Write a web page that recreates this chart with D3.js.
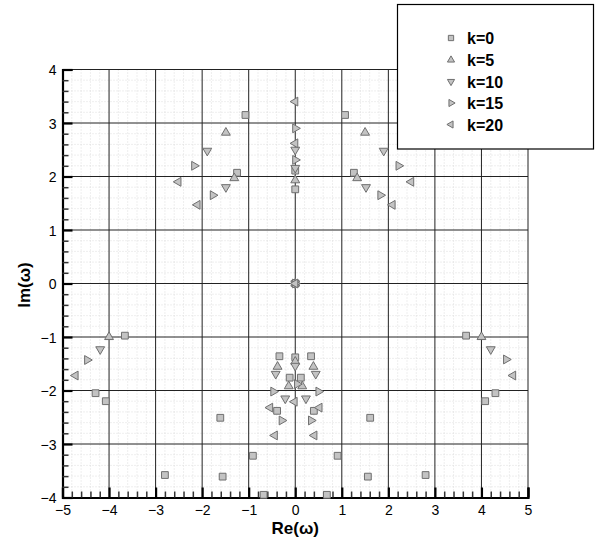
<!DOCTYPE html>
<html>
<head>
<meta charset="utf-8">
<script src="https://cdn.jsdelivr.net/npm/d3@7/dist/d3.min.js"></script>
<style>
  html, body { margin: 0; padding: 0; background: #fff; }
  svg { display: block; font-family: "Liberation Sans", Arial, sans-serif; }
</style>
</head>
<body>
<svg id="chart" width="595" height="544"></svg>
<script>
// Eigenvalue spectra in the complex plane, one list of [Re, Im] pairs per k.
const seriesNames = ["k=0", "k=5", "k=10", "k=15", "k=20"];

const k0 = [
  [-1.07, 3.15], [1.07, 3.15], [-1.25, 2.07], [1.26, 2.07], [0, 2.11], [0, 1.76], [0, 0],
  [-3.66, -0.975], [3.67, -0.975], [-4.29, -2.05], [4.30, -2.05], [-4.07, -2.20], [4.08, -2.20],
  [-0.34, -1.36], [0, -1.38], [0.34, -1.36], [-0.12, -1.76], [0.12, -1.76],
  [-0.39, -2.38], [0.40, -2.38], [-1.61, -2.51], [1.61, -2.51], [-0.91, -3.22], [0.91, -3.22],
  [-2.80, -3.58], [2.80, -3.58], [-1.56, -3.61], [1.56, -3.61], [-0.68, -3.95], [0.68, -3.95]
];
const k5 = [
  [-1.49, 2.82], [1.50, 2.82], [-1.31, 1.97], [1.33, 1.97], [0, 1.93], [0, 0],
  [-4.00, -1.00], [4.00, -1.00], [-0.38, -1.555], [0.39, -1.555], [0, -1.46],
  [-0.14, -1.92], [0.15, -1.92]
];
const k10 = [
  [-1.89, 2.48], [1.90, 2.48], [-1.49, 1.80], [1.52, 1.80], [0, 2.50], [0, 2.16], [0, 0],
  [-4.19, -1.23], [4.20, -1.23], [0, -1.54], [-0.42, -1.69], [0.44, -1.69],
  [-0.215, -2.15], [0.23, -2.15]
];
const k15 = [
  [-2.17, 2.20], [2.22, 2.20], [-1.77, 1.65], [1.83, 1.65], [0, 2.90], [0, 2.31], [0, 0],
  [-4.47, -1.43], [4.53, -1.42], [0.04, -1.88], [-0.47, -2.02], [0.50, -2.02],
  [-0.29, -2.56], [0.34, -2.56]
];
const k20 = [
  [-2.51, 1.90], [2.49, 1.90], [-2.10, 1.47], [2.09, 1.47], [0, 3.40], [0, 2.62], [0, 0],
  [-4.72, -1.72], [4.68, -1.72], [-0.015, -2.21], [-0.54, -2.32], [0.52, -2.32],
  [-0.44, -2.84], [0.41, -2.84]
];

const xTicks = [-5, -4, -3, -2, -1, 0, 1, 2, 3, 4, 5];
const yTicks = [-4, -3, -2, -1, 0, 1, 2, 3, 4];

const svg = d3.select("#chart");
const plotL = 62.5, plotR = 528, plotT = 69.5, plotB = 497.5;

const x = d3.scaleLinear().domain([-5, 5]).range([plotL, plotR]);
const y = d3.scaleLinear().domain([-4, 4]).range([plotB, plotT]);

// Minor grid (dotted) every 0.2
const minorX = d3.range(-50, 51, 2).map(v => v / 10).filter(v => !Number.isInteger(v));
const minorY = d3.range(-40, 41, 2).map(v => v / 10).filter(v => !Number.isInteger(v));
const grid = svg.append("g");
grid.selectAll("line.mx").data(minorX).join("line")
  .attr("x1", d => x(d)).attr("x2", d => x(d)).attr("y1", plotT).attr("y2", plotB)
  .attr("stroke", "#d6d6d6").attr("stroke-width", 0.8).attr("stroke-dasharray", "1,2");
grid.selectAll("line.my").data(minorY).join("line")
  .attr("y1", d => y(d)).attr("y2", d => y(d)).attr("x1", plotL).attr("x2", plotR)
  .attr("stroke", "#d6d6d6").attr("stroke-width", 0.8).attr("stroke-dasharray", "1,2");

// Major grid
grid.selectAll("line.gx").data(xTicks).join("line")
  .attr("x1", d => x(d)).attr("x2", d => x(d)).attr("y1", plotT).attr("y2", plotB)
  .attr("stroke", "#222").attr("stroke-width", 1);
grid.selectAll("line.gy").data(yTicks).join("line")
  .attr("y1", d => y(d)).attr("y2", d => y(d)).attr("x1", plotL).attr("x2", plotR)
  .attr("stroke", "#222").attr("stroke-width", 1);

// Axes with inward ticks
const xAxis = svg.append("g").attr("transform", `translate(0,${plotB})`)
  .call(d3.axisBottom(x).tickValues(xTicks).tickSize(-10).tickPadding(8).tickFormat(d3.format("d")));
const yAxis = svg.append("g").attr("transform", `translate(${plotL},0)`)
  .call(d3.axisLeft(y).tickValues(yTicks).tickSize(-10).tickPadding(6).tickFormat(d3.format("d")));
[xAxis, yAxis].forEach(a => {
  a.select(".domain").attr("stroke", "#000").attr("stroke-width", 2.2);
  a.selectAll(".tick line").attr("stroke", "#000").attr("stroke-width", 2.2);
  a.selectAll(".tick text").attr("fill", "#000").attr("font-size", 14)
    .attr("font-family", "Liberation Sans, Arial, sans-serif");
});
yAxis.selectAll(".tick text").attr("dy", "0.36em");

// Minor ticks
svg.append("g").attr("transform", `translate(0,${plotB})`)
  .call(d3.axisBottom(x).tickValues(minorX).tickSize(-6).tickFormat(""))
  .call(g => g.select(".domain").remove())
  .selectAll("line").attr("stroke", "#333").attr("stroke-width", 1.5);
svg.append("g").attr("transform", `translate(${plotL},0)`)
  .call(d3.axisLeft(y).tickValues(minorY).tickSize(-6).tickFormat(""))
  .call(g => g.select(".domain").remove())
  .selectAll("line").attr("stroke", "#333").attr("stroke-width", 1.5);

// Markers
const shapes = [
  { type: d3.symbolSquare, size: 46, rot: 0 },
  { type: d3.symbolTriangle, size: 34, rot: 0 },
  { type: d3.symbolTriangle, size: 34, rot: 180 },
  { type: d3.symbolTriangle, size: 34, rot: 90 },
  { type: d3.symbolTriangle, size: 34, rot: -90 }
];
const seriesData = [k0, k5, k10, k15, k20];
const fill = "#c3c3c3", stroke = "#6f6f6f";

seriesData.forEach((data, i) => {
  const s = shapes[i];
  svg.append("g").selectAll("path").data(data).join("path")
    .attr("d", d3.symbol(s.type, s.size))
    .attr("transform", d => `translate(${x(d[0])},${y(d[1])}) rotate(${s.rot})`)
    .attr("fill", fill).attr("stroke", stroke).attr("stroke-width", 1);
});

// Axis titles
svg.append("text").attr("x", (plotL + plotR) / 2).attr("y", 534)
  .attr("text-anchor", "middle").attr("font-size", 17).attr("font-weight", "bold")
  .text("Re(ω)");
svg.append("text").attr("transform", "translate(30,285) rotate(-90)")
  .attr("text-anchor", "middle").attr("font-size", 17).attr("font-weight", "bold")
  .text("Im(ω)");

// Legend
const legend = svg.append("g");
legend.append("rect").attr("x", 397.5).attr("y", 4.5).attr("width", 196).attr("height", 144.5)
  .attr("fill", "#fff").attr("stroke", "#000").attr("stroke-width", 1.2);
const rowY = [38, 60, 81.5, 103, 124.5];
seriesNames.forEach((name, i) => {
  const s = shapes[i];
  legend.append("path")
    .attr("d", d3.symbol(s.type, i === 0 ? 28 : 22))
    .attr("transform", `translate(451,${rowY[i]}) rotate(${s.rot})`)
    .attr("fill", fill).attr("stroke", stroke).attr("stroke-width", 1);
  legend.append("text").attr("x", 467).attr("y", rowY[i] + 6)
    .attr("font-size", 16).attr("font-weight", "bold").text(name);
});
</script>
</body>
</html>
